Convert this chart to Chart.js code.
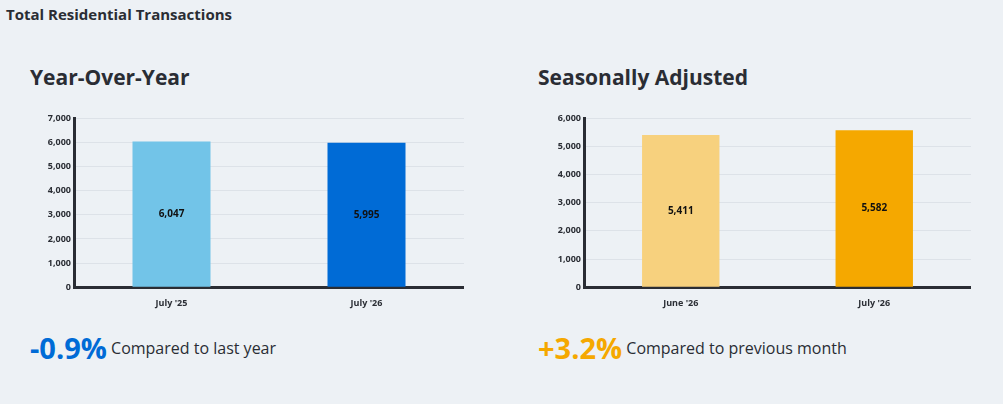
<!DOCTYPE html>
<html><head><meta charset="utf-8">
<script src="https://cdn.jsdelivr.net/npm/chart.js@4"></script>
<style>
body{margin:0;background:#edf1f5;font-family:"Open Sans",sans-serif;color:#2a2d34;width:1003px;height:404px;position:relative;overflow:hidden}
.t{position:absolute;white-space:nowrap}
.box{position:absolute}
</style></head><body>
<div class="t" style="left:6px;top:4px;font-size:15px;font-weight:700">Total Residential Transactions</div>
<div class="t" style="left:30px;top:63px;font-size:21px;font-weight:700">Year-Over-Year</div>
<div class="t" style="left:538px;top:63px;font-size:21px;font-weight:700">Seasonally Adjusted</div>
<div class="box" style="left:10px;top:110px;width:454px;height:202px"><canvas id="c1"></canvas></div>
<div class="box" style="left:520px;top:110px;width:451px;height:202px"><canvas id="c2"></canvas></div>
<div class="t" style="left:30px;top:328px"><span style="color:#006bd6;font-size:29px;font-weight:700">-0.9%</span> <span style="font-size:16px;vertical-align:5px">Compared to last year</span></div>
<div class="t" style="left:538px;top:328px"><span style="color:#f5a800;font-size:29px;font-weight:700">+3.2%</span> <span style="font-size:16px;vertical-align:5px">Compared to previous month</span></div>
<script>
const yoyLabels = ["July '25", "July '26"];
const yoyValues = [6047, 5995];
const yoyColors = ['#72c4e8', '#006bd6'];
const saLabels = ["June '26", "July '26"];
const saValues = [5411, 5582];
const saColors = ['#f7d17e', '#f5a800'];

const valueLabels = {
  id: 'valueLabels',
  afterDatasetsDraw(chart) {
    const ctx = chart.ctx;
    ctx.save();
    ctx.font = 'bold 10px "Open Sans"';
    ctx.fillStyle = '#111';
    ctx.textAlign = 'center';
    ctx.textBaseline = 'middle';
    chart.getDatasetMeta(0).data.forEach((bar, i) => {
      const v = chart.data.datasets[0].data[i];
      ctx.fillText(v.toLocaleString('en-US'), bar.x, (bar.y + bar.base) / 2);
    });
    ctx.restore();
  }
};

function makeChart(id, labels, values, colors, max, axisW) {
  new Chart(document.getElementById(id), {
    type: 'bar',
    data: { labels, datasets: [{ data: values, backgroundColor: colors, barPercentage: 0.4, categoryPercentage: 1 }] },
    options: {
      responsive: true, maintainAspectRatio: false, animation: false,
      layout: { padding: 0 },
      plugins: { legend: { display: false }, tooltip: { enabled: false } },
      scales: {
        x: {
          grid: { display: false },
          border: { color: '#2a2d34', width: 3 },
          ticks: { color: '#2a2d34', font: { size: 9, weight: 'bold', family: 'Open Sans' } }
        },
        y: {
          min: 0, max: max,
          ticks: { stepSize: 1000, color: '#2a2d34', font: { size: 9, weight: 'bold', family: 'Open Sans' },
                   callback: v => v.toLocaleString('en-US') },
          grid: { color: '#dde2e8', drawTicks: false },
          border: { color: '#2a2d34', width: 3 },
          afterFit: s => { s.width = axisW; }
        }
      }
    },
    plugins: [valueLabels]
  });
}
makeChart('c1', yoyLabels, yoyValues, yoyColors, 7000, 64);
makeChart('c2', saLabels, saValues, saColors, 6000, 64);
</script>
</body></html>
